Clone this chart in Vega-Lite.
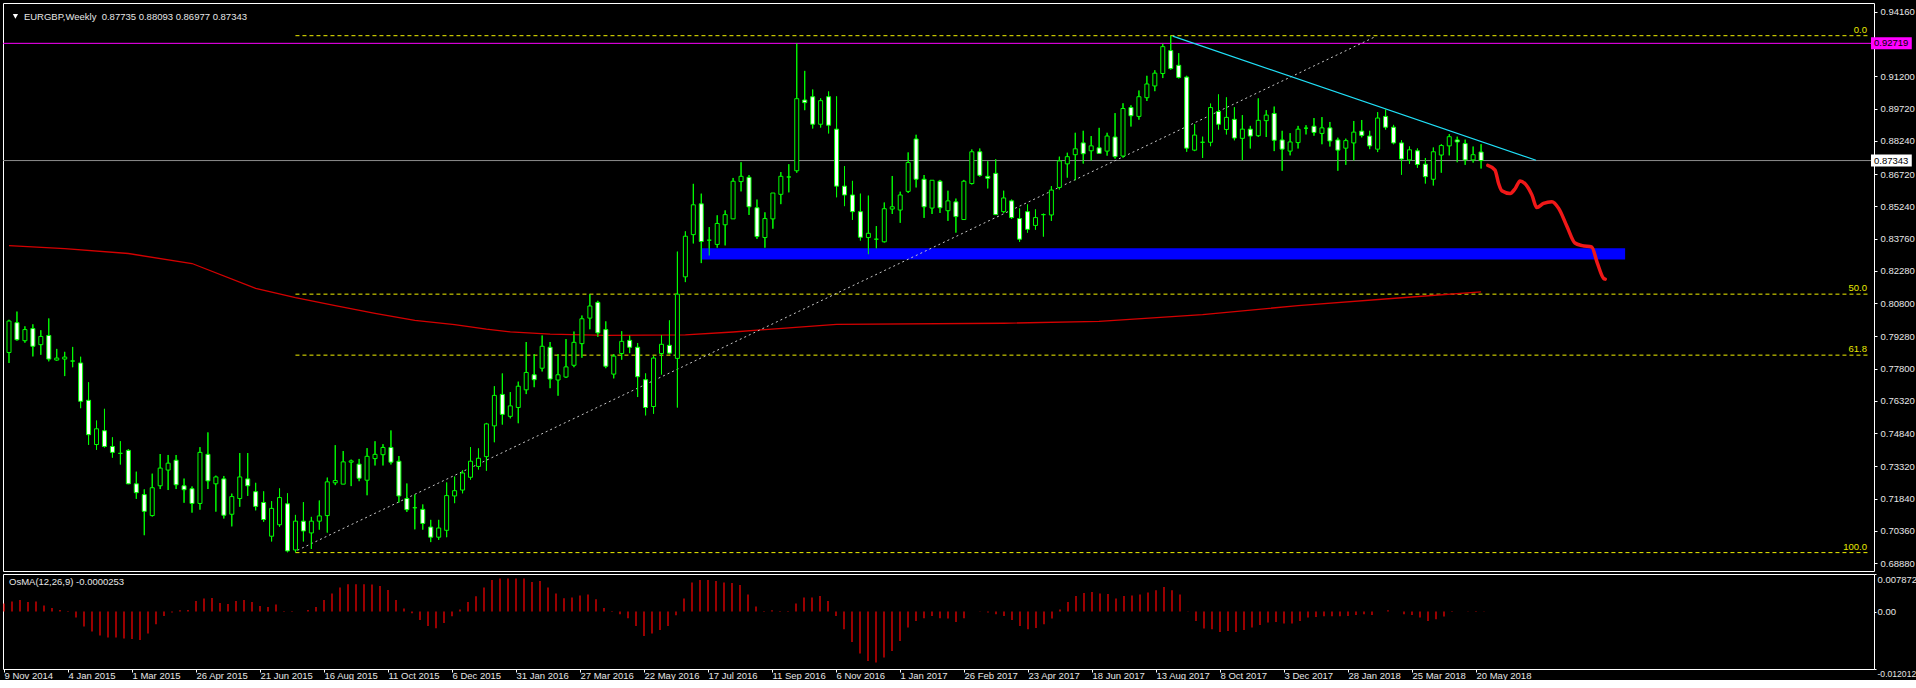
{
"$schema":"https://vega.github.io/schema/vega-lite/v6.json",
"background":"#000000",
"padding":{"left":2,"top":2,"right":0,"bottom":0},
"bounds":"flush",
"spacing":3,
"config":{"view":{"stroke":"#FFFFFF","strokeWidth":1},"font":"Liberation Sans",
 "axis":{"labelColor":"#E6E6E6","labelFont":"Liberation Sans","labelFontSize":9.5,"tickColor":"#FFFFFF","domain":false,"grid":false,"title":null}},
"datasets":{
"w":[
{"d":"2014-11-09","o":0.78539,"h":0.80041,"l":0.78058,"c":0.79981,"m":0.001674},
{"d":"2014-11-16","o":0.79906,"h":0.80416,"l":0.79080,"c":0.79125,"m":0.002093},
{"d":"2014-11-23","o":0.79080,"h":0.79740,"l":0.78989,"c":0.79590,"m":0.002442},
{"d":"2014-11-30","o":0.79635,"h":0.79831,"l":0.78359,"c":0.78824,"m":0.002023},
{"d":"2014-12-07","o":0.78899,"h":0.79560,"l":0.78434,"c":0.79275,"m":0.002093},
{"d":"2014-12-14","o":0.79320,"h":0.80101,"l":0.78133,"c":0.78238,"m":0.001256},
{"d":"2014-12-21","o":0.78193,"h":0.78704,"l":0.78163,"c":0.78283,"m":0.000767},
{"d":"2014-12-28","o":0.78238,"h":0.78569,"l":0.77457,"c":0.78329,"m":0.000349},
{"d":"2015-01-04","o":0.78148,"h":0.78794,"l":0.77863,"c":0.78148,"m":-0.0001},
{"d":"2015-01-11","o":0.78058,"h":0.78344,"l":0.75985,"c":0.76301,"m":-0.001256},
{"d":"2015-01-18","o":0.76346,"h":0.77172,"l":0.74303,"c":0.74769,"m":-0.00314},
{"d":"2015-01-25","o":0.74318,"h":0.75415,"l":0.74078,"c":0.75039,"m":-0.004186},
{"d":"2015-02-01","o":0.74949,"h":0.75955,"l":0.74183,"c":0.74228,"m":-0.005023},
{"d":"2015-02-08","o":0.74228,"h":0.74649,"l":0.73717,"c":0.73958,"m":-0.005442},
{"d":"2015-02-15","o":0.73913,"h":0.74468,"l":0.73402,"c":0.73913,"m":-0.005442},
{"d":"2015-02-22","o":0.74048,"h":0.74108,"l":0.72501,"c":0.72516,"m":-0.005651},
{"d":"2015-03-01","o":0.72516,"h":0.73072,"l":0.71825,"c":0.72110,"m":-0.005721},
{"d":"2015-03-08","o":0.72020,"h":0.72260,"l":0.70158,"c":0.71254,"m":-0.00593},
{"d":"2015-03-15","o":0.71059,"h":0.72981,"l":0.71014,"c":0.72336,"m":-0.004605},
{"d":"2015-03-22","o":0.72426,"h":0.73883,"l":0.72275,"c":0.73237,"m":-0.002651},
{"d":"2015-03-29","o":0.73147,"h":0.73838,"l":0.72230,"c":0.73462,"m":-0.000907},
{"d":"2015-04-05","o":0.73597,"h":0.73838,"l":0.72275,"c":0.72471,"m":-0.000209},
{"d":"2015-04-12","o":0.72426,"h":0.72756,"l":0.71645,"c":0.72245,"m":0.000279},
{"d":"2015-04-19","o":0.72291,"h":0.72396,"l":0.71194,"c":0.71615,"m":0.000349},
{"d":"2015-04-26","o":0.71615,"h":0.74198,"l":0.71329,"c":0.73958,"m":0.002233},
{"d":"2015-05-03","o":0.73868,"h":0.74874,"l":0.72275,"c":0.72651,"m":0.002721},
{"d":"2015-05-10","o":0.72516,"h":0.72891,"l":0.71239,"c":0.72831,"m":0.002861},
{"d":"2015-05-17","o":0.72741,"h":0.72876,"l":0.70924,"c":0.71074,"m":0.001814},
{"d":"2015-05-24","o":0.71119,"h":0.72065,"l":0.70563,"c":0.71930,"m":0.001605},
{"d":"2015-05-31","o":0.71840,"h":0.73928,"l":0.71464,"c":0.72831,"m":0.002233},
{"d":"2015-06-07","o":0.72741,"h":0.73928,"l":0.71960,"c":0.72426,"m":0.002442},
{"d":"2015-06-14","o":0.72155,"h":0.72561,"l":0.71299,"c":0.71479,"m":0.002023},
{"d":"2015-06-21","o":0.71659,"h":0.72170,"l":0.70773,"c":0.70878,"m":0.001186},
{"d":"2015-06-28","o":0.70112,"h":0.71720,"l":0.69872,"c":0.71389,"m":0.000977},
{"d":"2015-07-05","o":0.70638,"h":0.72305,"l":0.70548,"c":0.71885,"m":0.001465},
{"d":"2015-07-12","o":0.71599,"h":0.72080,"l":0.69376,"c":0.69437,"m":0.00014},
{"d":"2015-07-19","o":0.69482,"h":0.71089,"l":0.69376,"c":0.70803,"m":0.00014},
{"d":"2015-07-26","o":0.70803,"h":0.71674,"l":0.69872,"c":0.70353,"m":0.00003},
{"d":"2015-08-02","o":0.70263,"h":0.70999,"l":0.69527,"c":0.70803,"m":0.000349},
{"d":"2015-08-09","o":0.70803,"h":0.71750,"l":0.70413,"c":0.71044,"m":0.000977},
{"d":"2015-08-16","o":0.71059,"h":0.72801,"l":0.70278,"c":0.72606,"m":0.002442},
{"d":"2015-08-23","o":0.72561,"h":0.74288,"l":0.72456,"c":0.72666,"m":0.003768},
{"d":"2015-08-30","o":0.72501,"h":0.74018,"l":0.72501,"c":0.73522,"m":0.005023},
{"d":"2015-09-06","o":0.73507,"h":0.73627,"l":0.72410,"c":0.73567,"m":0.005721},
{"d":"2015-09-13","o":0.73417,"h":0.73657,"l":0.72636,"c":0.72771,"m":0.005721},
{"d":"2015-09-20","o":0.72681,"h":0.74153,"l":0.71990,"c":0.73777,"m":0.005721},
{"d":"2015-09-27","o":0.73672,"h":0.74468,"l":0.73357,"c":0.73867,"m":0.005651},
{"d":"2015-10-04","o":0.73852,"h":0.74333,"l":0.73357,"c":0.74183,"m":0.005372},
{"d":"2015-10-11","o":0.74183,"h":0.74964,"l":0.73402,"c":0.73507,"m":0.004535},
{"d":"2015-10-18","o":0.73552,"h":0.73792,"l":0.71659,"c":0.71960,"m":0.002442},
{"d":"2015-10-25","o":0.71840,"h":0.72531,"l":0.71224,"c":0.71329,"m":0.000628},
{"d":"2015-11-01","o":0.71419,"h":0.72020,"l":0.70428,"c":0.71419,"m":-0.000349},
{"d":"2015-11-08","o":0.71344,"h":0.71569,"l":0.70413,"c":0.70698,"m":-0.001744},
{"d":"2015-11-15","o":0.70533,"h":0.70863,"l":0.69842,"c":0.70067,"m":-0.003},
{"d":"2015-11-22","o":0.70067,"h":0.70863,"l":0.69947,"c":0.70488,"m":-0.003489},
{"d":"2015-11-29","o":0.70383,"h":0.72576,"l":0.70067,"c":0.71975,"m":-0.002372},
{"d":"2015-12-06","o":0.71960,"h":0.72846,"l":0.71629,"c":0.72200,"m":-0.000977},
{"d":"2015-12-13","o":0.72230,"h":0.73131,"l":0.72080,"c":0.73011,"m":0.000419},
{"d":"2015-12-20","o":0.72816,"h":0.74198,"l":0.72711,"c":0.73552,"m":0.002023},
{"d":"2015-12-27","o":0.73312,"h":0.74138,"l":0.73176,"c":0.73687,"m":0.003209},
{"d":"2016-01-03","o":0.73762,"h":0.75309,"l":0.73116,"c":0.75264,"m":0.005023},
{"d":"2016-01-10","o":0.75174,"h":0.76992,"l":0.74423,"c":0.76571,"m":0.006628},
{"d":"2016-01-17","o":0.76616,"h":0.77577,"l":0.75234,"c":0.75700,"m":0.006907},
{"d":"2016-01-24","o":0.75610,"h":0.76722,"l":0.75520,"c":0.76091,"m":0.006907},
{"d":"2016-01-31","o":0.76016,"h":0.77202,"l":0.75295,"c":0.76992,"m":0.006907},
{"d":"2016-02-07","o":0.76827,"h":0.79020,"l":0.76631,"c":0.77623,"m":0.006907},
{"d":"2016-02-14","o":0.77518,"h":0.78464,"l":0.76947,"c":0.77292,"m":0.00621},
{"d":"2016-02-21","o":0.77818,"h":0.79320,"l":0.77668,"c":0.78824,"m":0.006419},
{"d":"2016-02-28","o":0.78779,"h":0.79020,"l":0.76902,"c":0.77322,"m":0.005023},
{"d":"2016-03-06","o":0.77277,"h":0.78464,"l":0.76556,"c":0.77518,"m":0.003768},
{"d":"2016-03-13","o":0.77413,"h":0.79155,"l":0.77367,"c":0.77878,"m":0.002791},
{"d":"2016-03-20","o":0.77953,"h":0.79500,"l":0.77863,"c":0.79005,"m":0.00293},
{"d":"2016-03-27","o":0.78945,"h":0.80236,"l":0.78299,"c":0.80086,"m":0.003349},
{"d":"2016-04-03","o":0.80116,"h":0.81213,"l":0.79605,"c":0.80672,"m":0.003558},
{"d":"2016-04-10","o":0.80837,"h":0.80912,"l":0.79260,"c":0.79440,"m":0.002581},
{"d":"2016-04-17","o":0.79590,"h":0.79966,"l":0.77818,"c":0.77908,"m":0.000767},
{"d":"2016-04-24","o":0.77548,"h":0.78464,"l":0.77352,"c":0.78374,"m":0.00014},
{"d":"2016-05-01","o":0.78494,"h":0.79515,"l":0.78209,"c":0.79050,"m":-0.000558},
{"d":"2016-05-08","o":0.79095,"h":0.79320,"l":0.78509,"c":0.78779,"m":-0.001395},
{"d":"2016-05-15","o":0.78779,"h":0.78975,"l":0.76496,"c":0.77428,"m":-0.003},
{"d":"2016-05-22","o":0.77292,"h":0.77578,"l":0.75655,"c":0.76016,"m":-0.005093},
{"d":"2016-05-29","o":0.76061,"h":0.78389,"l":0.75730,"c":0.78284,"m":-0.004605},
{"d":"2016-06-05","o":0.78494,"h":0.79335,"l":0.77533,"c":0.78915,"m":-0.003837},
{"d":"2016-06-12","o":0.78869,"h":0.80011,"l":0.78464,"c":0.78509,"m":-0.003},
{"d":"2016-06-19","o":0.78269,"h":0.83165,"l":0.76016,"c":0.81213,"m":-0.000767},
{"d":"2016-06-26","o":0.82009,"h":0.84096,"l":0.81768,"c":0.83871,"m":0.002721},
{"d":"2016-07-03","o":0.83946,"h":0.86274,"l":0.83541,"c":0.85313,"m":0.00607},
{"d":"2016-07-10","o":0.85358,"h":0.85824,"l":0.82639,"c":0.83631,"m":0.006628},
{"d":"2016-07-17","o":0.83691,"h":0.84292,"l":0.82985,"c":0.83691,"m":0.006628},
{"d":"2016-07-24","o":0.83496,"h":0.84832,"l":0.83345,"c":0.84457,"m":0.006419},
{"d":"2016-07-31","o":0.84397,"h":0.85058,"l":0.83451,"c":0.84862,"m":0.00607},
{"d":"2016-08-07","o":0.84667,"h":0.86545,"l":0.84667,"c":0.86394,"m":0.006},
{"d":"2016-08-14","o":0.86379,"h":0.87266,"l":0.85929,"c":0.86620,"m":0.005582},
{"d":"2016-08-21","o":0.86575,"h":0.86680,"l":0.84847,"c":0.85223,"m":0.003558},
{"d":"2016-08-28","o":0.85178,"h":0.85553,"l":0.83751,"c":0.83856,"m":0.001047},
{"d":"2016-09-04","o":0.83811,"h":0.84968,"l":0.83345,"c":0.84682,"m":0.00014},
{"d":"2016-09-11","o":0.84667,"h":0.85854,"l":0.84217,"c":0.85854,"m":0.000279},
{"d":"2016-09-18","o":0.85794,"h":0.86815,"l":0.85343,"c":0.86620,"m":0.00014},
{"d":"2016-09-25","o":0.86590,"h":0.87176,"l":0.85884,"c":0.86590,"m":0.00014},
{"d":"2016-10-02","o":0.86875,"h":0.92719,"l":0.86785,"c":0.90180,"m":0.001674},
{"d":"2016-10-09","o":0.90119,"h":0.91456,"l":0.89654,"c":0.89999,"m":0.00293},
{"d":"2016-10-16","o":0.90270,"h":0.90600,"l":0.88813,"c":0.89008,"m":0.00293},
{"d":"2016-10-23","o":0.89008,"h":0.90195,"l":0.88858,"c":0.90089,"m":0.003279},
{"d":"2016-10-30","o":0.90270,"h":0.90510,"l":0.88587,"c":0.88963,"m":0.002233},
{"d":"2016-11-06","o":0.88783,"h":0.90285,"l":0.85659,"c":0.86169,"m":-0.000907},
{"d":"2016-11-13","o":0.86169,"h":0.87085,"l":0.85253,"c":0.85764,"m":-0.003698},
{"d":"2016-11-20","o":0.85764,"h":0.86410,"l":0.84622,"c":0.84998,"m":-0.006349},
{"d":"2016-11-27","o":0.84998,"h":0.85824,"l":0.83676,"c":0.83826,"m":-0.008791},
{"d":"2016-12-04","o":0.83811,"h":0.85734,"l":0.83045,"c":0.84006,"m":-0.010326},
{"d":"2016-12-11","o":0.83736,"h":0.84337,"l":0.83315,"c":0.83736,"m":-0.010675},
{"d":"2016-12-18","o":0.83616,"h":0.85418,"l":0.83586,"c":0.85133,"m":-0.009628},
{"d":"2016-12-25","o":0.85118,"h":0.86635,"l":0.84892,"c":0.85223,"m":-0.008233},
{"d":"2017-01-01","o":0.85073,"h":0.85914,"l":0.84487,"c":0.85764,"m":-0.00614},
{"d":"2017-01-08","o":0.85929,"h":0.87716,"l":0.85854,"c":0.87251,"m":-0.003349},
{"d":"2017-01-15","o":0.88332,"h":0.88527,"l":0.86109,"c":0.86485,"m":-0.001954},
{"d":"2017-01-22","o":0.86485,"h":0.86680,"l":0.84712,"c":0.85223,"m":-0.001395},
{"d":"2017-01-29","o":0.85163,"h":0.86440,"l":0.84892,"c":0.86440,"m":-0.000907},
{"d":"2017-02-05","o":0.86394,"h":0.86455,"l":0.84938,"c":0.85178,"m":-0.001395},
{"d":"2017-02-12","o":0.85043,"h":0.85959,"l":0.84577,"c":0.85493,"m":-0.001465},
{"d":"2017-02-19","o":0.85448,"h":0.85598,"l":0.84036,"c":0.84772,"m":-0.002163},
{"d":"2017-02-26","o":0.84637,"h":0.86455,"l":0.84637,"c":0.86394,"m":-0.001395},
{"d":"2017-03-05","o":0.86289,"h":0.87851,"l":0.86244,"c":0.87746,"m":0.00002},
{"d":"2017-03-12","o":0.87746,"h":0.87896,"l":0.86605,"c":0.86665,"m":0.00005},
{"d":"2017-03-19","o":0.86620,"h":0.87311,"l":0.86064,"c":0.86530,"m":-0.000209},
{"d":"2017-03-26","o":0.86755,"h":0.87401,"l":0.84847,"c":0.84862,"m":-0.000558},
{"d":"2017-04-02","o":0.84998,"h":0.85959,"l":0.84938,"c":0.85628,"m":-0.000907},
{"d":"2017-04-09","o":0.85493,"h":0.85553,"l":0.84667,"c":0.84727,"m":-0.001744},
{"d":"2017-04-16","o":0.84682,"h":0.85148,"l":0.83616,"c":0.83736,"m":-0.003},
{"d":"2017-04-23","o":0.84998,"h":0.85328,"l":0.84036,"c":0.84187,"m":-0.003698},
{"d":"2017-04-30","o":0.84367,"h":0.85103,"l":0.84172,"c":0.84727,"m":-0.003419},
{"d":"2017-05-07","o":0.84862,"h":0.84908,"l":0.83856,"c":0.84862,"m":-0.002651},
{"d":"2017-05-14","o":0.84847,"h":0.86169,"l":0.84577,"c":0.85989,"m":-0.001465},
{"d":"2017-05-21","o":0.86109,"h":0.87521,"l":0.86019,"c":0.87326,"m":0.000419},
{"d":"2017-05-28","o":0.87191,"h":0.87701,"l":0.86560,"c":0.87521,"m":0.002023},
{"d":"2017-06-04","o":0.87611,"h":0.88617,"l":0.86440,"c":0.87881,"m":0.003279},
{"d":"2017-06-11","o":0.88152,"h":0.88708,"l":0.87206,"c":0.87656,"m":0.003907},
{"d":"2017-06-18","o":0.87791,"h":0.88467,"l":0.87341,"c":0.88017,"m":0.004116},
{"d":"2017-06-25","o":0.87927,"h":0.88843,"l":0.87671,"c":0.87671,"m":0.003768},
{"d":"2017-07-02","o":0.87776,"h":0.88617,"l":0.87566,"c":0.88467,"m":0.003698},
{"d":"2017-07-09","o":0.88422,"h":0.89519,"l":0.87431,"c":0.87521,"m":0.002721},
{"d":"2017-07-16","o":0.87551,"h":0.89969,"l":0.87476,"c":0.89729,"m":0.003279},
{"d":"2017-07-23","o":0.89774,"h":0.89879,"l":0.88903,"c":0.89398,"m":0.003349},
{"d":"2017-07-30","o":0.89368,"h":0.90555,"l":0.89218,"c":0.90270,"m":0.003558},
{"d":"2017-08-06","o":0.90225,"h":0.91231,"l":0.90074,"c":0.90855,"m":0.003977},
{"d":"2017-08-13","o":0.90765,"h":0.91486,"l":0.90525,"c":0.91351,"m":0.004465},
{"d":"2017-08-20","o":0.91336,"h":0.92703,"l":0.91126,"c":0.92568,"m":0.005163},
{"d":"2017-08-27","o":0.92387,"h":0.93070,"l":0.91516,"c":0.91561,"m":0.004465},
{"d":"2017-09-03","o":0.91712,"h":0.92267,"l":0.91111,"c":0.91156,"m":0.003558},
{"d":"2017-09-10","o":0.91171,"h":0.91231,"l":0.87746,"c":0.87912,"m":-0.00003},
{"d":"2017-09-17","o":0.87821,"h":0.89008,"l":0.87776,"c":0.88512,"m":-0.001954},
{"d":"2017-09-24","o":0.88182,"h":0.88437,"l":0.87461,"c":0.88182,"m":-0.003558},
{"d":"2017-10-01","o":0.88182,"h":0.89954,"l":0.88002,"c":0.89774,"m":-0.003698},
{"d":"2017-10-08","o":0.89594,"h":0.90375,"l":0.88768,"c":0.89008,"m":-0.004256},
{"d":"2017-10-15","o":0.88768,"h":0.90240,"l":0.88542,"c":0.89323,"m":-0.004047},
{"d":"2017-10-22","o":0.89233,"h":0.89789,"l":0.88272,"c":0.88377,"m":-0.004256},
{"d":"2017-10-29","o":0.88362,"h":0.89429,"l":0.87356,"c":0.88783,"m":-0.003837},
{"d":"2017-11-05","o":0.88783,"h":0.88933,"l":0.87896,"c":0.88467,"m":-0.003349},
{"d":"2017-11-12","o":0.88482,"h":0.90194,"l":0.88422,"c":0.89188,"m":-0.002791},
{"d":"2017-11-19","o":0.89173,"h":0.89653,"l":0.88422,"c":0.89428,"m":-0.002302},
{"d":"2017-11-26","o":0.89503,"h":0.89819,"l":0.87776,"c":0.88272,"m":-0.002163},
{"d":"2017-12-03","o":0.88287,"h":0.88707,"l":0.86875,"c":0.87866,"m":-0.002512},
{"d":"2017-12-10","o":0.87776,"h":0.88602,"l":0.87581,"c":0.88196,"m":-0.002512},
{"d":"2017-12-17","o":0.88166,"h":0.88932,"l":0.87896,"c":0.88782,"m":-0.001954},
{"d":"2017-12-24","o":0.88827,"h":0.88963,"l":0.88542,"c":0.88827,"m":-0.001256},
{"d":"2017-12-31","o":0.88917,"h":0.89293,"l":0.88482,"c":0.88632,"m":-0.001116},
{"d":"2018-01-07","o":0.88587,"h":0.89338,"l":0.88091,"c":0.88842,"m":-0.000977},
{"d":"2018-01-14","o":0.88842,"h":0.89113,"l":0.87986,"c":0.88242,"m":-0.000977},
{"d":"2018-01-21","o":0.88287,"h":0.88392,"l":0.86875,"c":0.87821,"m":-0.000977},
{"d":"2018-01-28","o":0.87911,"h":0.88347,"l":0.87145,"c":0.88257,"m":-0.000907},
{"d":"2018-02-04","o":0.88151,"h":0.89158,"l":0.87340,"c":0.88647,"m":-0.000698},
{"d":"2018-02-11","o":0.88692,"h":0.89203,"l":0.88407,"c":0.88497,"m":-0.000558},
{"d":"2018-02-18","o":0.88467,"h":0.88707,"l":0.87866,"c":0.88016,"m":-0.000698},
{"d":"2018-02-25","o":0.87866,"h":0.89563,"l":0.87731,"c":0.89293,"m":0.00002},
{"d":"2018-03-04","o":0.89368,"h":0.89683,"l":0.88767,"c":0.88872,"m":0.000279},
{"d":"2018-03-11","o":0.88872,"h":0.88978,"l":0.88091,"c":0.88151,"m":0.00001},
{"d":"2018-03-18","o":0.88151,"h":0.88272,"l":0.86694,"c":0.87415,"m":-0.000558},
{"d":"2018-03-25","o":0.87370,"h":0.87986,"l":0.87190,"c":0.87836,"m":-0.000698},
{"d":"2018-04-01","o":0.87791,"h":0.87896,"l":0.87010,"c":0.87160,"m":-0.001256},
{"d":"2018-04-08","o":0.87175,"h":0.87461,"l":0.86289,"c":0.86604,"m":-0.001954},
{"d":"2018-04-15","o":0.86484,"h":0.87941,"l":0.86199,"c":0.87746,"m":-0.001605},
{"d":"2018-04-22","o":0.87596,"h":0.88091,"l":0.86785,"c":0.88031,"m":-0.001047},
{"d":"2018-04-29","o":0.88016,"h":0.88557,"l":0.87581,"c":0.88437,"m":-0.00007},
{"d":"2018-05-06","o":0.88287,"h":0.88437,"l":0.87265,"c":0.88196,"m":0.00003},
{"d":"2018-05-13","o":0.88121,"h":0.88302,"l":0.87145,"c":0.87370,"m":-0.00003},
{"d":"2018-05-20","o":0.87370,"h":0.87986,"l":0.87250,"c":0.87611,"m":-0.00007},
{"d":"2018-05-27","o":0.87735,"h":0.88093,"l":0.86977,"c":0.87343,"m":-0.0000253}
],
"ma":[
{"d":"2014-11-09","v":0.8344},{"d":"2014-12-28","v":0.8330},{"d":"2015-02-22","v":0.8308},{"d":"2015-04-19","v":0.8262},
{"d":"2015-06-14","v":0.8148},{"d":"2015-07-19","v":0.8106},{"d":"2015-08-23","v":0.8069},{"d":"2015-09-27","v":0.8033},
{"d":"2015-11-01","v":0.8001},{"d":"2015-12-06","v":0.7982},{"d":"2016-01-03","v":0.7961},{"d":"2016-01-24","v":0.7948},
{"d":"2016-02-28","v":0.7938},{"d":"2016-04-17","v":0.7932},{"d":"2016-06-26","v":0.7935},{"d":"2016-08-07","v":0.7948},
{"d":"2016-09-04","v":0.7959},{"d":"2016-11-06","v":0.7983},{"d":"2017-04-02","v":0.7988},{"d":"2017-06-25","v":0.7997},
{"d":"2017-09-24","v":0.8028},{"d":"2017-12-17","v":0.8069},{"d":"2018-03-18","v":0.8105},{"d":"2018-05-27","v":0.8132}
],
"fc":[
{"d":"2018-06-01T22:00:00Z","p":0.87121},{"d":"2018-06-08T06:00:00Z","p":0.86905},{"d":"2018-06-11T10:00:00Z","p":0.86288},
{"d":"2018-06-14T05:00:00Z","p":0.85959},{"d":"2018-06-21T13:00:00Z","p":0.85833},{"d":"2018-06-26T02:00:00Z","p":0.86062},
{"d":"2018-06-30T07:00:00Z","p":0.86409},{"d":"2018-07-04T12:00:00Z","p":0.86288},{"d":"2018-07-10T19:00:00Z","p":0.85756},
{"d":"2018-07-15T00:00:00Z","p":0.85184},{"d":"2018-07-20T23:00:00Z","p":0.85378},{"d":"2018-07-28T07:00:00Z","p":0.85454},
{"d":"2018-08-03T06:00:00Z","p":0.85148},{"d":"2018-08-10T14:00:00Z","p":0.84319},{"d":"2018-08-17T14:00:00Z","p":0.83562},
{"d":"2018-08-23T22:00:00Z","p":0.83440},{"d":"2018-09-01T07:00:00Z","p":0.83377},{"d":"2018-09-06T05:00:00Z","p":0.82652},
{"d":"2018-09-11T19:00:00Z","p":0.81940},{"d":"2018-09-13T05:00:00Z","p":0.81904}
],
"fib":[{"t":"0.0","p":0.9307},{"t":"50.0","p":0.81215},{"t":"61.8","p":0.78417},{"t":"100.0","p":0.6936}],
"tag":[{"t":"0.92719","p":0.92719,"k":"hi"},{"t":"0.87343","p":0.87343,"k":"bid"}]
},
"vconcat":[
{
"width":1871,"height":568,
"resolve":{"axis":{"y":"independent","x":"independent"}},
"layer":[
{"data":{"name":"w"},"mark":{"type":"rule","color":"#00FF00","strokeWidth":1},
 "encoding":{"x":{"field":"d","type":"temporal","scale":{"type":"utc","domain":[{"year":2014,"month":11,"date":8,"hours":3,"utc":true},{"year":2019,"month":5,"date":3,"hours":6,"utc":true}]},"axis":null},
  "y":{"field":"l","type":"quantitative","scale":{"domain":[0.68746,0.9434],"nice":false,"zero":false},
   "axis":{"orient":"right","values":[0.9416,0.912,0.8972,0.8824,0.8672,0.8524,0.8376,0.8228,0.808,0.7928,0.778,0.7632,0.7484,0.7332,0.7184,0.7036,0.6888],
     "format":".5f","tickSize":3,"labelPadding":3,"labelOverlap":false}},
  "y2":{"field":"h"}}},
{"data":{"name":"tag"},"mark":{"type":"rule","strokeWidth":1},
 "encoding":{"y":{"field":"p","type":"quantitative","axis":null},
  "color":{"condition":{"test":"datum.k == 'hi'","value":"#FF00FF"},"value":"#8C8C8C"}}},
{"data":{"name":"fib"},"mark":{"type":"rule","color":"#F0F000","strokeWidth":1,"strokeDash":[4,3]},
 "encoding":{"x":{"datum":{"year":2015,"month":7,"date":19,"utc":true},"type":"temporal","axis":null},
  "x2":{"datum":{"year":2019,"month":5,"date":3,"hours":6,"utc":true}},
  "y":{"field":"p","type":"quantitative","axis":null}}},
{"data":{"name":"fib"},"mark":{"type":"text","color":"#E8E800","fontSize":9.5,"align":"right","baseline":"bottom","dx":-2,"dy":-1},
 "encoding":{"x":{"datum":{"year":2019,"month":5,"date":3,"hours":6,"utc":true},"type":"temporal","axis":null},
  "y":{"field":"p","type":"quantitative","axis":null},"text":{"field":"t"}}},
{"data":{"name":"ma"},"mark":{"type":"line","color":"#D40000","strokeWidth":1.3},
 "encoding":{"x":{"field":"d","type":"temporal","axis":null},"y":{"field":"v","type":"quantitative","axis":null}}},
{"data":{"values":[{"d":"2016-07-10","d2":"2018-09-30T17:00:00Z","p":0.83323,"p2":0.82805}]},"mark":{"type":"rect","color":"#0000FF"},
 "encoding":{"x":{"field":"d","type":"temporal","axis":null},"x2":{"field":"d2"},"y":{"field":"p","type":"quantitative","axis":null},"y2":{"field":"p2"}}},
{"data":{"values":[{"d":"2015-07-20T18:00:00Z","p":0.69467},{"d":"2018-02-23T06:00:00Z","p":0.93033}]},"mark":{"type":"line","color":"#C8C8C8","strokeWidth":1,"strokeDash":[2,3]},
 "encoding":{"x":{"field":"d","type":"temporal","axis":null},"y":{"field":"p","type":"quantitative","axis":null}}},
{"data":{"values":[{"d":"2017-08-28T18:00:00Z","p":0.93047},{"d":"2018-07-14T07:00:00Z","p":0.87356}]},"mark":{"type":"line","color":"#20E0F8","strokeWidth":1.2},
 "encoding":{"x":{"field":"d","type":"temporal","axis":null},"y":{"field":"p","type":"quantitative","axis":null}}},
{"data":{"name":"w"},"mark":{"type":"rule","color":"#00FF00","strokeWidth":1},
 "encoding":{"x":{"field":"d","type":"temporal","axis":null},"y":{"field":"l","type":"quantitative","axis":null},"y2":{"field":"h"}}},
{"data":{"name":"w"},"mark":{"type":"bar","size":4,"stroke":"#00FF00","strokeWidth":1},
 "encoding":{"x":{"field":"d","type":"temporal","axis":null},"y":{"field":"o","type":"quantitative","axis":null},"y2":{"field":"c"},
  "fill":{"condition":{"test":"datum.c < datum.o","value":"#FFFFFF"},"value":"#000000"}}},
{"data":{"name":"fc"},"mark":{"type":"line","color":"#F01818","strokeWidth":3.5,"interpolate":"monotone","strokeCap":"round","strokeJoin":"round"},
 "encoding":{"x":{"field":"d","type":"temporal","axis":null},"y":{"field":"p","type":"quantitative","axis":null}}},
{"data":{"values":[{"t":"EURGBP,Weekly\u00a0 0.87735 0.88093 0.86977 0.87343"}]},"mark":{"type":"text","color":"#E6E6E6","fontSize":9.5,"align":"left","baseline":"middle"},
 "encoding":{"x":{"datum":{"year":2014,"month":11,"date":22,"hours":3,"utc":true},"type":"temporal","axis":null},"y":{"datum":0.93948,"type":"quantitative","axis":null},"text":{"field":"t"}}},
{"data":{"values":[{"t":"x"}]},"mark":{"type":"point","shape":"triangle-down","filled":true,"color":"#FFFFFF","size":28,"opacity":1},
 "encoding":{"x":{"datum":{"year":2014,"month":11,"date":14,"hours":16,"utc":true},"type":"temporal","axis":null},"y":{"datum":0.93957,"type":"quantitative","axis":null}}},
{"data":{"name":"tag"},"mark":{"type":"bar","size":12},
 "encoding":{"x":{"datum":{"year":2019,"month":5,"date":5,"utc":true},"type":"temporal","axis":null},"x2":{"datum":{"year":2019,"month":6,"date":9,"hours":21,"utc":true}},
  "y":{"field":"p","type":"quantitative","axis":null},
  "color":{"condition":{"test":"datum.k == 'hi'","value":"#FF00FF"},"value":"#FFFFFF"}}},
{"data":{"name":"tag"},"mark":{"type":"text","color":"#000000","fontSize":9.5,"align":"left","baseline":"middle"},
 "encoding":{"x":{"datum":{"year":2019,"month":5,"date":7,"hours":15,"utc":true},"type":"temporal","axis":null},
  "y":{"field":"p","type":"quantitative","axis":null},"text":{"field":"t"}}}
]
},
{
"width":1871,"height":95,
"resolve":{"axis":{"y":"independent","x":"independent"}},
"layer":[
{"data":{"name":"w"},"mark":{"type":"rule","color":"#FF0000","strokeWidth":1.2},
 "encoding":{"x":{"field":"d","type":"temporal","scale":{"type":"utc","domain":[{"year":2014,"month":11,"date":8,"hours":3,"utc":true},{"year":2019,"month":5,"date":3,"hours":6,"utc":true}]},
   "axis":{"values":[
    {"year":2014,"month":11,"date":9,"utc":true},{"year":2015,"month":1,"date":4,"utc":true},{"year":2015,"month":3,"date":1,"utc":true},
    {"year":2015,"month":4,"date":26,"utc":true},{"year":2015,"month":6,"date":21,"utc":true},{"year":2015,"month":8,"date":16,"utc":true},
    {"year":2015,"month":10,"date":11,"utc":true},{"year":2015,"month":12,"date":6,"utc":true},{"year":2016,"month":1,"date":31,"utc":true},
    {"year":2016,"month":3,"date":27,"utc":true},{"year":2016,"month":5,"date":22,"utc":true},{"year":2016,"month":7,"date":17,"utc":true},
    {"year":2016,"month":9,"date":11,"utc":true},{"year":2016,"month":11,"date":6,"utc":true},{"year":2017,"month":1,"date":1,"utc":true},
    {"year":2017,"month":2,"date":26,"utc":true},{"year":2017,"month":4,"date":23,"utc":true},{"year":2017,"month":6,"date":18,"utc":true},
    {"year":2017,"month":8,"date":13,"utc":true},{"year":2017,"month":10,"date":8,"utc":true},{"year":2017,"month":12,"date":3,"utc":true},
    {"year":2018,"month":1,"date":28,"utc":true},{"year":2018,"month":3,"date":25,"utc":true},{"year":2018,"month":5,"date":20,"utc":true}],
    "labelExpr":"utcFormat(datum.value, '%-d %b %Y')","labelAlign":"left","labelFlush":false,"tickSize":3,"labelPadding":-2,"labelOverlap":false}},
  "y":{"field":"m","type":"quantitative","scale":{"domain":[-0.012012,0.007872],"nice":false,"zero":false},
   "axis":{"orient":"right","values":[0.007872,0,-0.012012],
    "labelExpr":"datum.value == 0 ? '0.00' : (datum.value < 0 ? '-' + format(-datum.value, '.6f') : format(datum.value, '.6f'))",
    "labelBaseline":{"condition":{"test":"datum.value == 0","value":"middle"},"value":"top"},
    "labelFontSize":{"condition":{"test":"datum.value < 0","value":8.6},"value":9.5},
    "tickSize":2,"labelPadding":1,"labelOverlap":false}},
  "y2":{"datum":0}}},
{"data":{"values":[{"t":"OsMA(12,26,9) -0.0000253"}]},"mark":{"type":"text","color":"#E6E6E6","fontSize":9.5,"align":"left","baseline":"middle"},
 "encoding":{"x":{"datum":{"year":2014,"month":11,"date":13,"hours":9,"utc":true},"type":"temporal","axis":null},"y":{"datum":0.00626,"type":"quantitative","axis":null},"text":{"field":"t"}}}
]
}
]
}
